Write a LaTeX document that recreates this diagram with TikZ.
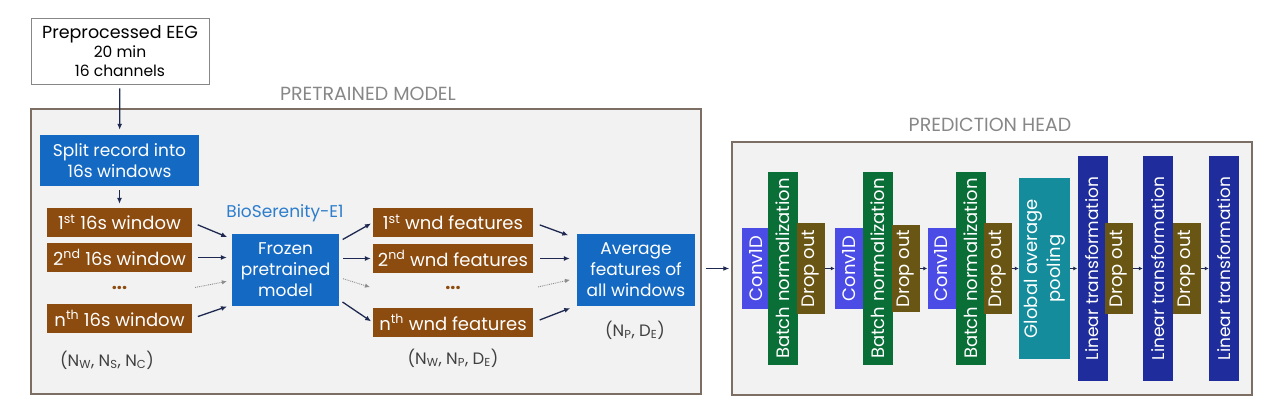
\documentclass[tikz,border=0pt]{standalone}
\usepackage{fontspec}
\setmainfont{Poppins}
\usetikzlibrary{arrows.meta}

\definecolor{wndbrown}{RGB}{140,75,15}
\definecolor{modelblue}{RGB}{20,105,195}
\definecolor{bioblue}{RGB}{45,125,205}
\definecolor{convblue}{RGB}{75,75,230}
\definecolor{bngreen}{RGB}{10,110,55}
\definecolor{dropolive}{RGB}{105,85,20}
\definecolor{gapteal}{RGB}{20,140,155}
\definecolor{linnavy}{RGB}{30,45,155}
\definecolor{arrnavy}{RGB}{30,40,80}
\definecolor{panelgrey}{RGB}{242,242,242}
\definecolor{framebrown}{RGB}{125,110,100}
\definecolor{titlegrey}{RGB}{135,135,135}

\begin{document}
\begin{tikzpicture}[x=1pt,y=-1pt,
  inbox/.style={draw=titlegrey, fill=white, line width=0.8pt, align=center,
    minimum width=178pt, minimum height=66pt, inner sep=0pt,
    font=\fontsize{15.5}{19}\selectfont},
  frame/.style={draw=framebrown, fill=panelgrey, line width=1.5pt, inner sep=0pt},
  title/.style={text=titlegrey, font=\fontsize{19}{22}\selectfont},
  bluebox/.style={fill=modelblue, text=white, align=center, inner sep=0pt,
    font=\fontsize{17}{21}\selectfont},
  wnd/.style={fill=wndbrown, text=white, inner sep=0pt, minimum height=29pt,
    font=\fontsize{18}{21}\selectfont},
  dots/.style={text=wndbrown, inner sep=0pt, minimum height=29pt,
    font=\fontsize{18}{21}\bfseries},
  dim/.style={text=black!75, font=\fontsize{16.5}{20}\selectfont},
  layer/.style={rotate=90, text=white, inner sep=0pt, align=center,
    font=\fontsize{18}{23}\selectfont},
  arr/.style={draw=arrnavy, line width=1.3pt, -{Latex[length=6pt,width=5pt]}},
  dotarr/.style={draw=black!45, line width=0.9pt, densely dotted,
    -{Latex[length=5pt,width=4.5pt]}},
  smallarr/.style={draw=arrnavy, line width=1.2pt, -{Latex[length=4pt,width=4pt]}},
]
  \useasboundingbox (0,0) rectangle (1274,406);

  % Input record
  \node[inbox] (eeg) at (120,51)
    {{\fontsize{17.5}{19}\selectfont Preprocessed EEG}\\20 min\\16 channels};

  % Pretrained model panel
  \node[frame, minimum width=670pt, minimum height=285pt] (pt) at (366,251.5) {};
  \node[title] (pttitle) at (368,94) {PRETRAINED MODEL};

  \node[bluebox, minimum width=159pt, minimum height=51pt] (split) at (119.5,160.5)
    {Split record into\\16s windows};

  % Windows
  \node[wnd, minimum width=145pt] (w1) at (119.5,222.5) {1\textsuperscript{st} 16s window};
  \node[wnd, minimum width=145pt] (w2) at (119.5,257.5) {2\textsuperscript{nd} 16s window};
  \node[dots, minimum width=145pt] (wd) at (119.5,288) {...};
  \node[wnd, minimum width=145pt] (wn) at (119.5,318.5) {n\textsuperscript{th} 16s window};
  \node[dim] (wdim) at (107,360) {(N\textsubscript{W}, N\textsubscript{S}, N\textsubscript{C})};

  % Frozen encoder
  \node[text=bioblue, font=\fontsize{17}{20}\selectfont] (bio) at (285,213) {BioSerenity-E1};
  \node[bluebox, minimum width=107pt, minimum height=72pt] (fz) at (285.5,270)
    {Frozen\\pretrained\\model};

  % Window features
  \node[wnd, minimum width=160pt] (f1) at (453,222.5) {1\textsuperscript{st} wnd features};
  \node[wnd, minimum width=160pt] (f2) at (453,258.5) {2\textsuperscript{nd} wnd features};
  \node[dots, minimum width=160pt] (fd) at (453,288) {...};
  \node[wnd, minimum width=160pt] (fn) at (453,322.5) {n\textsuperscript{th} wnd features};
  \node[dim] (fdim) at (453,358) {(N\textsubscript{W}, N\textsubscript{P}, D\textsubscript{E})};

  % Averaging
  \node[bluebox, minimum width=118pt, minimum height=72pt] (avg) at (636,270)
    {Average\\features of\\all windows};
  \node[dim] (avgdim) at (635,330) {(N\textsubscript{P}, D\textsubscript{E})};

  % Arrows in the pretrained model
  \draw[arr, shorten <=4pt, shorten >=5pt] (eeg) -- (split);
  \draw[arr, shorten <=4pt, shorten >=4pt] (split) -- (w1);
  \draw[arr, shorten <=6pt, shorten >=5pt] (w1.east) -- (fz.150);
  \draw[arr, shorten <=6pt, shorten >=5pt] (w2.east) -- (w2.east -| fz.west);
  \draw[dotarr, shorten <=3pt, shorten >=5pt] (wd.east) -- (fz.191);
  \draw[arr, shorten <=6pt, shorten >=5pt] (wn.east) -- (fz.213);
  \draw[arr, shorten <=4pt, shorten >=2pt] (fz.28) -- (f1.west);
  \draw[arr, shorten <=4pt, shorten >=2pt] (f2.west -| fz.east) -- (f2.west);
  \draw[dotarr, shorten <=4pt, shorten >=3pt] (fz.-8) -- (fd.west);
  \draw[arr, shorten <=4pt, shorten >=2pt] (fz.-29) -- (fn.west);
  \draw[arr, shorten <=7pt, shorten >=9pt] (f1.east) -- (avg.152);
  \draw[arr, shorten <=7pt, shorten >=7pt] (f2.east) -- (f2.east -| avg.west);
  \draw[dotarr, shorten <=5pt, shorten >=7pt] (fd.east) -- (avg.188);
  \draw[arr, shorten <=7pt, shorten >=7pt] (fn.east) -- (avg.211);

  % Prediction head panel
  \node[frame, minimum width=520pt, minimum height=253pt] (ph) at (992,268.5) {};
  \node[title] (phtitle) at (990,125) {PREDICTION HEAD};
  \draw[arr, shorten <=4pt, shorten >=2pt] (ph.west -| pt.east) -- (ph.west);

  % Layers (rotated: north is left, south is right)
  \node[layer, fill=convblue, minimum width=80pt, minimum height=28pt] (c1) at (756,268.5) {Conv1D};
  \node[layer, fill=bngreen, minimum width=193pt, minimum height=30pt] (b1) at (783,268.5) {Batch normalization};
  \node[layer, fill=dropolive, minimum width=91pt, minimum height=28pt] (d1) at (810.5,268.5) {Drop out};
  \node[layer, fill=convblue, minimum width=80pt, minimum height=28pt] (c2) at (849,268.5) {Conv1D};
  \node[layer, fill=bngreen, minimum width=193pt, minimum height=30pt] (b2) at (878,268.5) {Batch normalization};
  \node[layer, fill=dropolive, minimum width=86pt, minimum height=28pt] (d2) at (905.5,268.5) {Drop out};
  \node[layer, fill=convblue, minimum width=80pt, minimum height=28pt] (c3) at (941.5,268.5) {Conv1D};
  \node[layer, fill=bngreen, minimum width=193pt, minimum height=30pt] (b3) at (971,268.5) {Batch normalization};
  \node[layer, fill=dropolive, minimum width=91pt, minimum height=28pt] (d3) at (998,268.5) {Drop out};
  \node[layer, fill=gapteal, minimum width=180pt, minimum height=51pt] (gap) at (1044.5,268.5) {Global average\\pooling};
  \node[layer, fill=linnavy, minimum width=224pt, minimum height=30pt, font=\fontsize{17}{20}\selectfont] (l1) at (1092.5,268.5) {Linear transformation};
  \node[layer, fill=dropolive, minimum width=91pt, minimum height=28pt] (d4) at (1118.5,268.5) {Drop out};
  \node[layer, fill=linnavy, minimum width=224pt, minimum height=30pt, font=\fontsize{17}{20}\selectfont] (l2) at (1158,268.5) {Linear transformation};
  \node[layer, fill=dropolive, minimum width=91pt, minimum height=28pt] (d5) at (1186.5,268.5) {Drop out};
  \node[layer, fill=linnavy, minimum width=224pt, minimum height=30pt, font=\fontsize{17}{20}\selectfont] (l3) at (1224,268.5) {Linear transformation};

  % Small arrows between layers
  \draw[smallarr] (d1.south) -- (c2.north);
  \draw[smallarr] (d2.south) -- (c3.north);
  \draw[smallarr] (d3.south) -- (gap.north);
  \draw[smallarr] (gap.south) -- (l1.north);
  \draw[smallarr] (d4.south) -- (l2.north);
  \draw[smallarr] (d5.south) -- (l3.north);
\end{tikzpicture}
\end{document}
